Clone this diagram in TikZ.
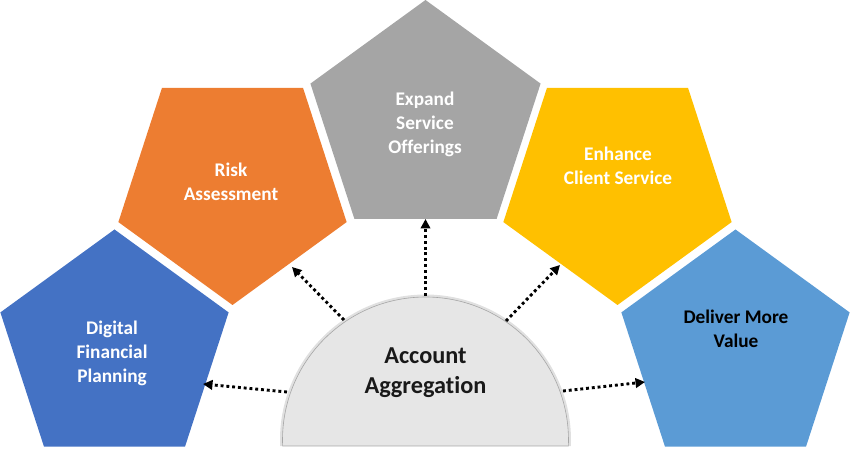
\documentclass[tikz,border=0pt]{standalone}
\usepackage{fontspec}
\setmainfont{Carlito}[RawFeature=-liga]
\usetikzlibrary{arrows.meta}
\definecolor{cblue}{HTML}{4472C4}
\definecolor{corange}{HTML}{ED7D31}
\definecolor{cgray}{HTML}{A5A5A5}
\definecolor{cyellow}{HTML}{FFC000}
\definecolor{clblue}{HTML}{5B9BD5}
\definecolor{cagg}{HTML}{E6E6E6}
\begin{document}
\begin{tikzpicture}[x=1pt,y=1pt,
  lbl/.style={align=center, anchor=base, inner sep=0pt, font=\bfseries\fontsize{19.3}{24}\selectfont, text=white},
  bigl/.style={align=center, anchor=base, inner sep=0pt, font=\bfseries\fontsize{24.3}{30}\selectfont, text=black!90},
  arr/.style={line width=2.9pt, dash pattern=on 2.9pt off 2.9pt, -{Triangle[length=9.5pt,width=9.5pt]}, black}
]
\useasboundingbox (0,0) rectangle (850,449);
% pentagons pointing up
\begin{scope}[shift={(114.5,99.5)}]
  \fill[cblue] (90:120) -- (18:120) -- (-54:120) -- (-126:120) -- (162:120) -- cycle;
\end{scope}
\begin{scope}[shift={(735.5,99.5)}]
  \fill[clblue] (90:120) -- (18:120) -- (-54:120) -- (-126:120) -- (162:120) -- cycle;
\end{scope}
\begin{scope}[shift={(425.5,328)}]
  \fill[cgray] (90:121) -- (18:121) -- (-54:121) -- (-126:121) -- (162:121) -- cycle;
\end{scope}
% pentagons pointing down
\begin{scope}[shift={(232.5,264)}]
  \fill[corange] (-90:120) -- (-18:120) -- (54:120) -- (126:120) -- (198:120) -- cycle;
\end{scope}
\begin{scope}[shift={(617.5,264)}]
  \fill[cyellow] (-90:120) -- (-18:120) -- (54:120) -- (126:120) -- (198:120) -- cycle;
\end{scope}
% semicircle
\coordinate (ac) at (425.5,9);
\draw[line width=3pt, black, opacity=0.12] (ac) ++(182.4:144) arc[start angle=182.4, end angle=-2.4, radius=144];
\draw[fill=cagg, draw=black!35, line width=0.6pt] (ac) ++(182.4:143) arc[start angle=182.4, end angle=-2.4, radius=143] -- cycle;
% labels (anchor base = baseline of the last line)
\node[lbl] (dfp) at (112,66) {Digital\\Financial\\Planning};
\node[lbl] (risk) at (231,248) {Risk\\Assessment};
\node[lbl] (exp) at (425,295) {Expand\\Service\\Offerings};
\node[lbl] (enh) at (618,264) {Enhance\\Client Service};
\node[lbl, text=black] (dmv) at (736,101) {Deliver More\\Value};
\node[bigl] (agg) at (425.5,55) {Account\\Aggregation};
% connector end points
\coordinate (s1) at (287,57);   \coordinate (e1) at (203,65);
\coordinate (s2) at (344,129);  \coordinate (e2) at (292,182);
\coordinate (s3) at (425.5,153);\coordinate (e3) at (425.5,230);
\coordinate (s4) at (506,128);  \coordinate (e4) at (560,184);
\coordinate (s5) at (563,58);   \coordinate (e5) at (645,67);
\draw[arr] (s1) -- (e1);
\draw[arr] (s2) -- (e2);
\draw[arr] (s3) -- (e3);
\draw[arr] (s4) -- (e4);
\draw[arr] (s5) -- (e5);
\end{tikzpicture}
\end{document}
